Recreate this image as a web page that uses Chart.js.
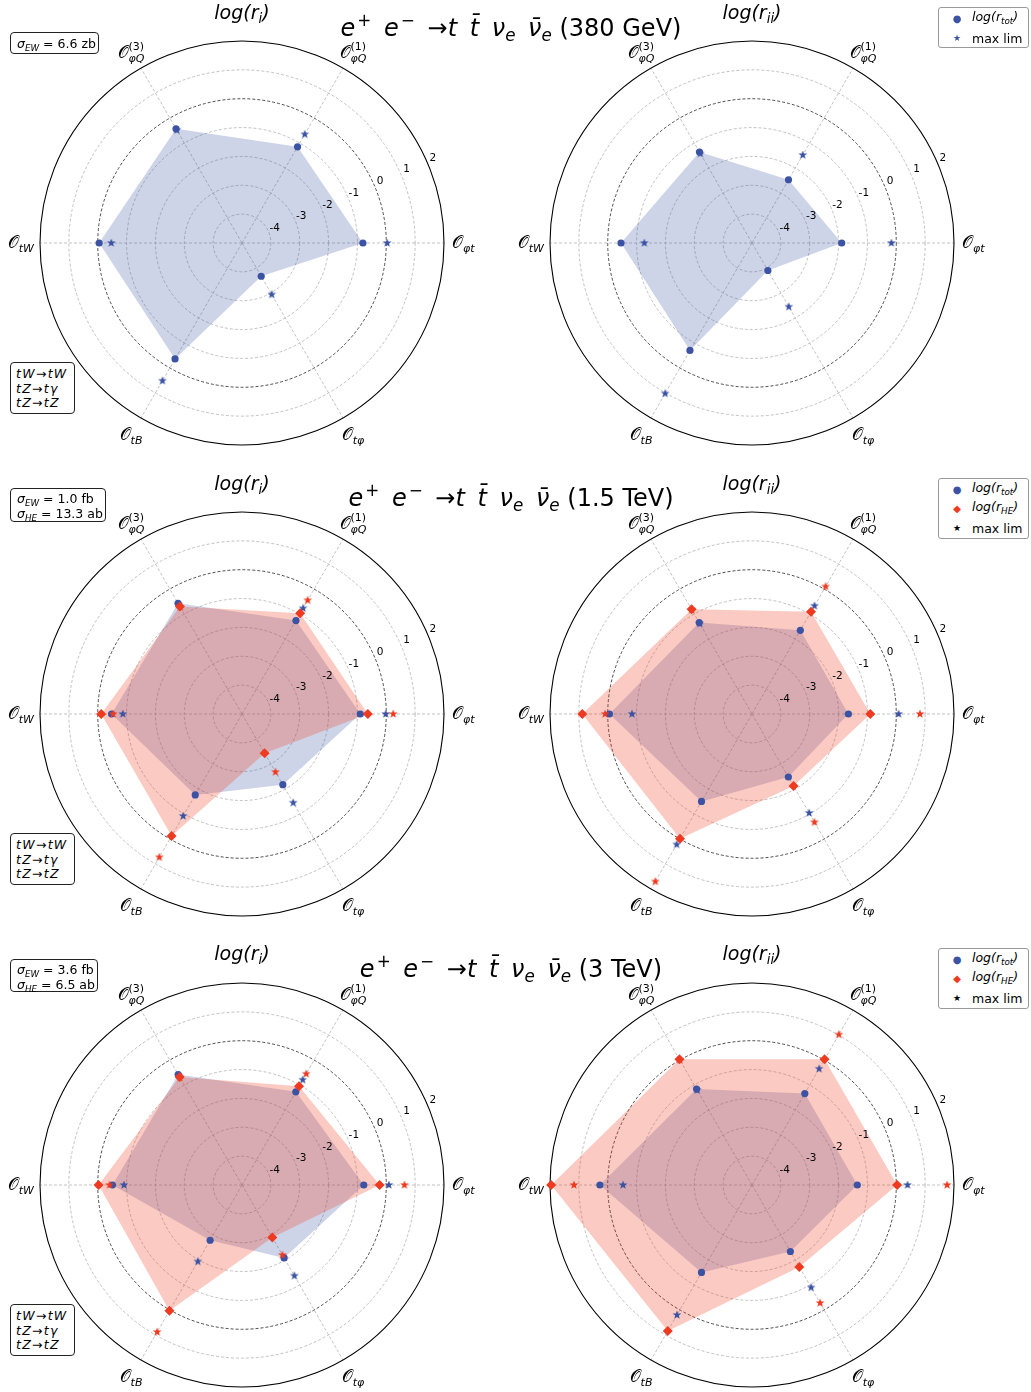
<!DOCTYPE html>
<html><head><meta charset="utf-8">
<script src="https://cdn.jsdelivr.net/npm/chart.js@4.4.1/dist/chart.umd.min.js"></script>
<style>
body{margin:0;background:#fff;font-family:"DejaVu Sans",sans-serif;}
#page{position:relative;width:1031px;height:1392px;overflow:hidden;background:#fff}
canvas{position:absolute}
.title{position:absolute;left:511px;transform:translateX(-50%);font-size:24px;line-height:28px;white-space:nowrap}
.title .g{display:inline-block;width:5px}
.sub{position:absolute;transform:translateX(-50%);font-size:19px;line-height:20px;font-style:italic;white-space:nowrap}
.sb{font-size:70%;vertical-align:-0.3em}
.sp{font-size:70%;vertical-align:0.6em;margin-left:2px}
.box{position:absolute;border:1px solid #222;border-radius:4px;background:#fff;box-sizing:border-box;font-size:12.5px;white-space:nowrap}
.box div{position:absolute;left:6px;line-height:15px}
.box .pr{letter-spacing:1.3px;left:5px}
.leg{position:absolute;border:1px solid #999;border-radius:3px;background:#fff;box-sizing:border-box;font-size:12.5px;white-space:nowrap;left:938px;width:91px}
.leg .mk{position:absolute;left:18px;transform:translate(-50%,-50%);line-height:10px}
.leg .tx{position:absolute;left:33px;transform:translateY(-50%);line-height:15px}
</style>
</head><body><div id="page">
<canvas id="c0" width="511" height="471" style="left:0;top:0"></canvas>
<canvas id="c1" width="520" height="471" style="left:511px;top:0"></canvas>
<canvas id="c2" width="511" height="471" style="left:0;top:471px"></canvas>
<canvas id="c3" width="520" height="471" style="left:511px;top:471px"></canvas>
<canvas id="c4" width="511" height="450" style="left:0;top:942px"></canvas>
<canvas id="c5" width="520" height="450" style="left:511px;top:942px"></canvas>

<div class="title" style="top:6px"><i>e</i><span class="sp">+</span><span class="g"></span> <i>e</i><span class="sp">−</span><span class="g"></span> →<i>t <span class="g"></span>t̄ <span class="g"></span>ν<span class="sb">e</span> <span class="g"></span>ν̄<span class="sb">e</span></i> (380 GeV)</div>
<div class="title" style="top:476px"><i>e</i><span class="sp">+</span><span class="g"></span> <i>e</i><span class="sp">−</span><span class="g"></span> →<i>t <span class="g"></span>t̄ <span class="g"></span>ν<span class="sb">e</span> <span class="g"></span>ν̄<span class="sb">e</span></i> (1.5 TeV)</div>
<div class="title" style="top:947px"><i>e</i><span class="sp">+</span><span class="g"></span> <i>e</i><span class="sp">−</span><span class="g"></span> →<i>t <span class="g"></span>t̄ <span class="g"></span>ν<span class="sb">e</span> <span class="g"></span>ν̄<span class="sb">e</span></i> (3 TeV)</div>

<div class="sub" style="left:242px;top:2px">log(r<span class="sb">i</span>)</div>
<div class="sub" style="left:752px;top:2px">log(r<span class="sb">ii</span>)</div>
<div class="sub" style="left:242px;top:473px">log(r<span class="sb">i</span>)</div>
<div class="sub" style="left:752px;top:473px">log(r<span class="sb">ii</span>)</div>
<div class="sub" style="left:242px;top:943px">log(r<span class="sb">i</span>)</div>
<div class="sub" style="left:752px;top:943px">log(r<span class="sb">ii</span>)</div>

<div class="box" style="left:10px;top:32px;width:89px;height:22px"><div style="top:3px"><i>σ<span class="sb">EW</span></i> = 6.6 zb</div></div>
<div class="box" style="left:10px;top:488px;width:96px;height:34px"><div style="top:2px"><i>σ<span class="sb">EW</span></i> = 1.0 fb</div><div style="top:17px"><i>σ<span class="sb">HE</span></i> = 13.3 ab</div></div>
<div class="box" style="left:10px;top:959px;width:88px;height:33px"><div style="top:2px"><i>σ<span class="sb">EW</span></i> = 3.6 fb</div><div style="top:17px"><i>σ<span class="sb">HE</span></i> = 6.5 ab</div></div>

<div class="box" style="left:10px;top:362px;width:65px;height:52px"><div class="pr" style="top:3px"><i>tW</i>→<i>tW</i></div><div class="pr" style="top:18px"><i>tZ</i>→<i>tγ</i></div><div class="pr" style="top:32px"><i>tZ</i>→<i>tZ</i></div></div>
<div class="box" style="left:10px;top:833px;width:65px;height:52px"><div class="pr" style="top:3px"><i>tW</i>→<i>tW</i></div><div class="pr" style="top:18px"><i>tZ</i>→<i>tγ</i></div><div class="pr" style="top:32px"><i>tZ</i>→<i>tZ</i></div></div>
<div class="box" style="left:10px;top:1304px;width:65px;height:52px"><div class="pr" style="top:3px"><i>tW</i>→<i>tW</i></div><div class="pr" style="top:18px"><i>tZ</i>→<i>tγ</i></div><div class="pr" style="top:32px"><i>tZ</i>→<i>tZ</i></div></div>

<div class="leg" style="top:7px;height:41px">
 <span class="mk" style="top:11px;color:#3c53a4;font-size:10px">●</span><span class="tx" style="top:11px"><i>log(r<span class="sb">tot</span>)</i></span>
 <span class="mk" style="top:30px;color:#3c53a4;font-size:9px">★</span><span class="tx" style="top:30px">max lim</span>
</div>
<div class="leg" style="top:478px;height:61px">
 <span class="mk" style="top:11px;color:#3c53a4;font-size:10px">●</span><span class="tx" style="top:11px"><i>log(r<span class="sb">tot</span>)</i></span>
 <span class="mk" style="top:30px;color:#ee3a20;font-size:10px">◆</span><span class="tx" style="top:30px"><i>log(r<span class="sb">HE</span>)</i></span>
 <span class="mk" style="top:49px;color:#000;font-size:9px">★</span><span class="tx" style="top:49px">max lim</span>
</div>
<div class="leg" style="top:948px;height:61px">
 <span class="mk" style="top:11px;color:#3c53a4;font-size:10px">●</span><span class="tx" style="top:11px"><i>log(r<span class="sb">tot</span>)</i></span>
 <span class="mk" style="top:30px;color:#ee3a20;font-size:10px">◆</span><span class="tx" style="top:30px"><i>log(r<span class="sb">HE</span>)</i></span>
 <span class="mk" style="top:49px;color:#000;font-size:9px">★</span><span class="tx" style="top:49px">max lim</span>
</div>
</div>
<script>
// Axes, clockwise from the right: O_φt, O_tφ, O_tB, O_tW, O_φQ(3), O_φQ(1)
const categories = ['φt', 'tφ', 'tB', 'tW', 'φQ(3)', 'φQ(1)'];
const opSub = ['φt', 'tφ', 'tB', 'tW', 'φQ', 'φQ'];
const opSup = [null, null, null, null, '(3)', '(1)'];
const tickValues = [-4, -3, -2, -1, 0, 1, 2];
const tickLabels = ['-4', '-3', '-2', '-1', '0', '1', '2'];

// 380 GeV
const gev380_ri_tot = [-0.81, -3.67, -0.36, -0.05, -0.43, -1.15];
const gev380_ri_max = [0.03, -2.94, 0.51, -0.47, -0.48, -0.65];
const gev380_rii_tot = [-1.89, -3.90, -0.70, -0.46, -1.36, -2.47];
const gev380_rii_max = [-0.17, -2.45, 1.02, -1.27, -1.42, -1.48];

// 1.5 TeV
const tev15_ri_tot = [-0.90, -2.17, -1.76, -0.48, -0.57, -1.26];
const tev15_ri_he = [-0.64, -3.43, -0.12, -0.12, -0.70, -0.97];
const tev15_ri_maxtot = [-0.02, -1.45, -0.92, -0.87, -0.62, -0.77];
const tev15_ri_maxhe = [0.24, -2.68, 0.73, -0.53, -0.72, -0.45];
const tev15_rii_tot = [-1.66, -2.48, -1.50, -0.06, -1.34, -1.65];
const tev15_rii_he = [-0.90, -2.12, -0.01, 0.88, -0.81, -0.91];
const tev15_rii_maxtot = [0.08, -1.04, 0.22, -0.84, -1.38, -0.67];
const tev15_rii_maxhe = [0.82, -0.67, 1.70, 0.09, -0.83, 0.10];

// 3 TeV
const tev3_ri_tot = [-0.78, -2.08, -2.79, -0.51, -0.58, -1.27];
const tev3_ri_he = [-0.23, -2.90, 0.03, -0.03, -0.68, -1.05];
const tev3_ri_maxtot = [0.09, -1.37, -1.94, -0.91, -0.62, -0.79];
const tev3_ri_maxhe = [0.63, -2.20, 0.88, -0.41, -0.70, -0.55];
const tev3_rii_tot = [-1.35, -2.34, -1.50, 0.27, -1.16, -1.34];
const tev3_rii_he = [0.03, -1.72, 0.84, 1.96, 0.03, 0.03];
const tev3_rii_maxtot = [0.39, -0.90, 0.20, -0.53, -1.20, -0.35];
const tev3_rii_maxhe = [1.76, -0.28, null, 1.17, 0.00, 1.02];

const BLUE = '#3c53a4', RED = '#ee3a20';
const BLUE_FILL = 'rgba(59,82,164,0.25)', RED_FILL = 'rgba(240,60,30,0.27)';

function starImg(color) {
  const s = 10, c = document.createElement('canvas');
  c.width = s; c.height = s;
  const g = c.getContext('2d');
  const R = 4.6, r = 1.95;
  g.beginPath();
  for (let k = 0; k < 10; k++) {
    const a = -Math.PI / 2 + k * Math.PI / 5, rr = k % 2 ? r : R;
    g.lineTo(s / 2 + rr * Math.cos(a), s / 2 + rr * Math.sin(a));
  }
  g.closePath(); g.fillStyle = color; g.fill();
  return c;
}
const starBlue = starImg(BLUE), starRed = starImg(RED);

const FONT_O = '17px "DejaVu Sans"', FONT_S = 'italic 11px "DejaVu Sans"', FONT_P = '11px "DejaVu Sans"';

const decor = {
  id: 'decor',
  beforeDatasetsDraw(chart) {
    const sc = chart.scales.r, ctx = chart.ctx;
    ctx.save();
    ctx.beginPath();
    ctx.arc(sc.xCenter, sc.yCenter, sc.getDistanceFromCenterForValue(2), 0, Math.PI * 2);
    ctx.lineWidth = 1.1; ctx.strokeStyle = '#000'; ctx.setLineDash([]);
    ctx.stroke();
    ctx.restore();
  },
  afterDraw(chart) {
    const sc = chart.scales.r, ctx = chart.ctx;
    const cx = sc.xCenter, cy = sc.yCenter, R = sc.getDistanceFromCenterForValue(2);
    ctx.save();
    ctx.font = '10.5px "DejaVu Sans"'; ctx.fillStyle = '#000';
    ctx.textAlign = 'center'; ctx.textBaseline = 'middle';
    const ang = 24 * Math.PI / 180;
    tickValues.forEach((v, k) => {
      const d = sc.getDistanceFromCenterForValue(v) + 7;
      ctx.fillText(tickLabels[k], cx + d * Math.cos(ang), cy - d * Math.sin(ang));
    });
    ctx.textAlign = 'left'; ctx.textBaseline = 'alphabetic';
    categories.forEach((cat, i) => {
      const sub = opSub[i], sup = opSup[i];
      ctx.font = FONT_O; const wO = ctx.measureText('𝒪').width;
      ctx.font = FONT_S; const wS = ctx.measureText(sub).width;
      ctx.font = FONT_P; const wP = sup ? ctx.measureText(sup).width : 0;
      const w = wO + Math.max(wS, wP);
      let x0, base;
      const p = sc.getPointPosition(i, R + 20);
      const c = Math.cos(p.angle);
      if (c > 0.99) { x0 = cx + R + 8; base = cy + 5; }
      else if (c < -0.99) { x0 = cx - R - 6 - w; base = cy + 5; }
      else {
        const q = sc.getPointPosition(i, 222);
        x0 = q.x - w / 2; base = q.y + (sup ? 7 : 5);
      }
      ctx.font = FONT_O; ctx.fillText('𝒪', x0, base);
      ctx.font = FONT_S; ctx.fillText(sub, x0 + wO, base + 4);
      if (sup) { ctx.font = FONT_P; ctx.fillText(sup, x0 + wO, base - 8); }
    });
    ctx.restore();
  }
};

function makeChart(id, pad, tot, he, maxtot, maxhe) {
  const datasets = [];
  datasets.push({ data: tot, backgroundColor: BLUE_FILL, borderWidth: 0, pointRadius: 0, fill: 'start', order: 6 });
  if (he) datasets.push({ data: he, backgroundColor: RED_FILL, borderWidth: 0, pointRadius: 0, fill: 'start', order: 5 });
  datasets.push({ data: maxtot, showLine: false, fill: false, pointStyle: starBlue, pointRadius: 4, order: 4 });
  datasets.push({ data: tot, showLine: false, fill: false, pointStyle: 'circle', pointRadius: 3.6, pointBackgroundColor: BLUE, pointBorderWidth: 0, order: 3 });
  if (maxhe) datasets.push({ data: maxhe, showLine: false, fill: false, pointStyle: starRed, pointRadius: 4, order: 2 });
  if (he) datasets.push({ data: he, showLine: false, fill: false, pointStyle: 'rectRot', pointRadius: 5, pointBackgroundColor: RED, pointBorderWidth: 0, order: 1 });
  return new Chart(document.getElementById(id), {
    type: 'radar',
    data: { labels: categories, datasets },
    options: {
      responsive: false, animation: false, devicePixelRatio: 1, events: [],
      layout: { padding: pad },
      plugins: { legend: { display: false }, tooltip: { enabled: false } },
      scales: {
        r: {
          min: -5, max: 2, startAngle: 90,
          ticks: { display: false, stepSize: 1 },
          pointLabels: { display: false },
          grid: {
            circular: true, lineWidth: 0.8,
            color: (c) => c.tick.value === 0 ? '#222' : (c.tick.value === 2 ? 'rgba(0,0,0,0)' : '#b3b3b3')
          },
          border: { dash: [3, 2] },
          angleLines: { color: '#b3b3b3', lineWidth: 0.8, borderDash: [3, 2] }
        }
      }
    },
    plugins: [decor]
  });
}
const padL = { left: 40, right: 67, top: 41, bottom: 26 };
const padR = { left: 39, right: 77, top: 41, bottom: 26 };
const padL3 = { left: 40, right: 67, top: 41, bottom: 5 };
const padR3 = { left: 39, right: 77, top: 41, bottom: 5 };
makeChart('c0', padL, gev380_ri_tot, null, gev380_ri_max, null);
makeChart('c1', padR, gev380_rii_tot, null, gev380_rii_max, null);
makeChart('c2', padL, tev15_ri_tot, tev15_ri_he, tev15_ri_maxtot, tev15_ri_maxhe);
makeChart('c3', padR, tev15_rii_tot, tev15_rii_he, tev15_rii_maxtot, tev15_rii_maxhe);
makeChart('c4', padL3, tev3_ri_tot, tev3_ri_he, tev3_ri_maxtot, tev3_ri_maxhe);
makeChart('c5', padR3, tev3_rii_tot, tev3_rii_he, tev3_rii_maxtot, tev3_rii_maxhe);
</script>
</body></html>
